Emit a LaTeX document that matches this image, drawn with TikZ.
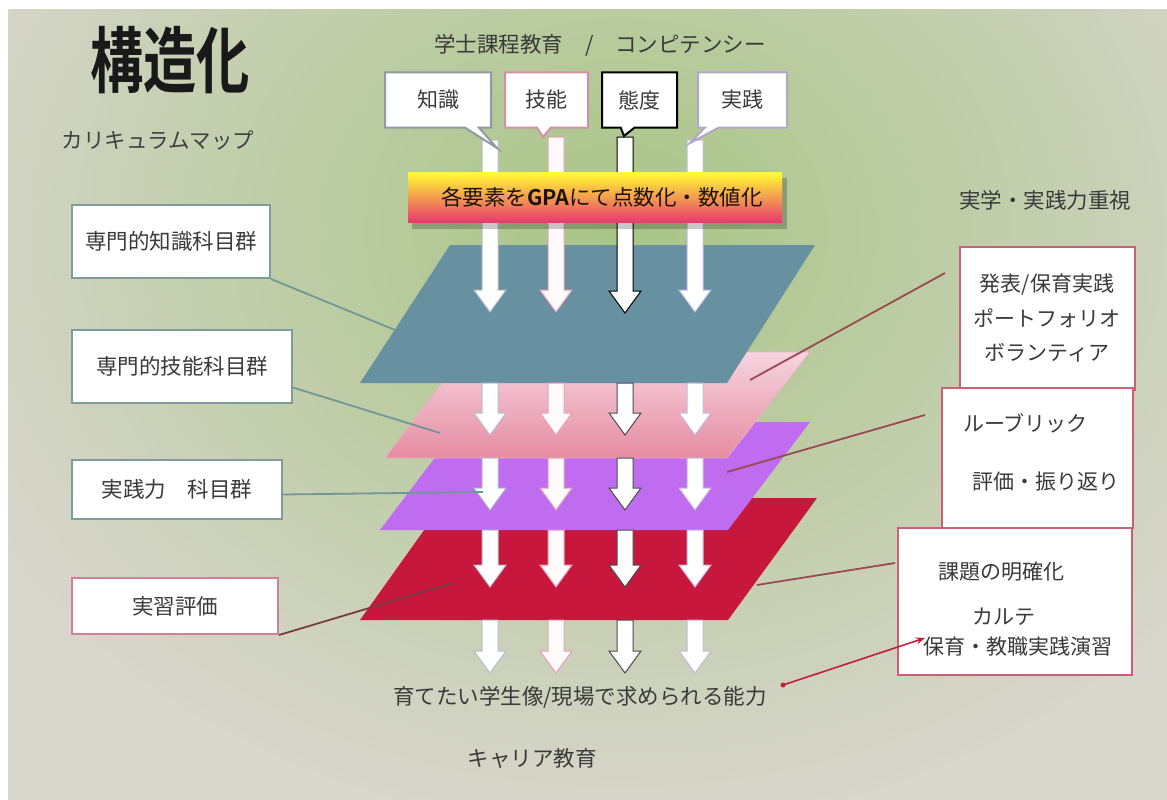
\documentclass[tikz,border=0pt]{standalone}
\usepackage{fontspec}
\setmainfont{Noto Sans CJK JP}[BoldFont={Noto Sans CJK JP Bold}]
\usetikzlibrary{shapes.callouts,arrows.meta}
\definecolor{bgbase}{HTML}{D9D6CE}
\definecolor{bggreen}{HTML}{A8C585}
\definecolor{txt}{HTML}{3A3A3A}
\definecolor{bluelayer}{HTML}{6790A0}
\definecolor{pinktop}{HTML}{F6D4DF}
\definecolor{pinkbot}{HTML}{E68CA2}
\definecolor{purplelayer}{HTML}{BF6CF0}
\definecolor{redlayer}{HTML}{C8173D}
\definecolor{boxteal}{HTML}{7E9C9A}
\definecolor{boxpink}{HTML}{C8607A}
\definecolor{lineteal}{HTML}{6F9896}
\definecolor{linebrown}{HTML}{9A4A52}
\definecolor{linered}{HTML}{C0203A}
\definecolor{col1}{HTML}{B4C0CC}
\definecolor{col2}{HTML}{E8A0B8}
\definecolor{col4}{HTML}{C4B8DE}
\definecolor{gpatop}{HTML}{FFFF30}
\definecolor{gpamid}{HTML}{F8B040}
\definecolor{gpabot}{HTML}{E83A70}
\newcommand\myarrow[4]{\path[#4] (#1-8,#2) -- (#1+8,#2) -- (#1+8,#3-22) -- (#1+16,#3-22) -- (#1,#3) -- (#1-16,#3-22) -- (#1-8,#3-22) -- cycle;}
\tikzset{
  lbox/.style={draw=boxteal, line width=2pt, fill=white, inner sep=0pt, text=txt, font=\fontsize{21.5}{25}\selectfont},
  rbox/.style={draw=boxpink, line width=2pt, fill=white, inner sep=0pt},
  rtxt/.style={text=txt, font=\fontsize{21}{25}\selectfont, inner sep=0pt},
  co/.style={rectangle callout, fill=white, line width=2pt, inner sep=0pt, text=txt, font=\fontsize{21}{25}\selectfont, callout pointer width=14pt},
  lbl/.style={text=txt, inner sep=0pt},
  a1/.style={fill=white, draw=col1, line width=1pt},
  a2/.style={fill=white!94!pink, draw=col2, line width=1pt},
  a3/.style={fill=white, draw=black, line width=1pt},
  a3b/.style={fill=white, draw=black!70, line width=1pt},
  a4/.style={fill=white, draw=col4, line width=1pt},
}
\begin{document}
\begin{tikzpicture}[x=1pt,y=-1pt]
\useasboundingbox (0,0) rectangle (1167,800);
\fill[white] (0,0) rectangle (1167,800);
% background
\begin{scope}
\clip (8,10) rectangle (1167,800);
\fill[bgbase] (8,10) rectangle (1167,800);
\shade[inner color=bggreen, outer color=bgbase] (-120,-380) rectangle (1360,840);
\end{scope}
% titles
\node[lbl, text=black!90] (title) at (170,60) {\fontsize{72}{78}\selectfont\scalebox{0.74}[1]{\bfseries 構造化}};
\node[lbl, text=black!75, font=\fontsize{21.5}{25}\selectfont] (cmap) at (158,140) {カリキュラムマップ};
\node[lbl, font=\fontsize{21.5}{25}\selectfont] (head) at (600,45) {学士課程教育\hspace{22pt}/\hspace{22pt}コンピテンシー};
\node[lbl, font=\fontsize{21.5}{25}\selectfont] (jitsu) at (1045,200) {実学・実践力重視};
% layers
\fill[redlayer] (360,620) -- (447,498) -- (817,498) -- (728,620) -- cycle;
\fill[purplelayer] (380,530) -- (462,422) -- (810,422) -- (728,530) -- cycle;
\shade[top color=pinktop, bottom color=pinkbot, draw=pinkbot!70, line width=0.6pt] (385,458) -- (465,352) -- (810,352) -- (727,458) -- cycle;
\fill[bluelayer] (360,383) -- (450,245) -- (815,245) -- (727,383) -- cycle;
\coordinate (Lblue) at (395,330);
\coordinate (Lpink) at (440,433);
\coordinate (Lpurple) at (483,492);
\coordinate (Lred) at (453,583);
\coordinate (Rpink) at (750,380);
\coordinate (Rpurple) at (727,472);
\coordinate (Rred) at (757,585);
\coordinate (Rgoal) at (783,685);
% arrows
\myarrow{490}{140}{312}{a1}
\myarrow{556}{137}{312}{a2}
\myarrow{625}{137}{313}{a3}
\myarrow{695}{140}{312}{a4}
\foreach \t/\b in {383/435, 458/510, 530/587, 620/673}{
  \myarrow{490}{\t}{\b}{a1}
  \myarrow{556}{\t}{\b}{a2}
  \myarrow{625}{\t}{\b}{a3b}
  \myarrow{695}{\t}{\b}{a4}
}
% GPA banner
\fill[black, opacity=0.22] (412,178) rectangle (787,229);
\shade[top color=gpatop, middle color=gpamid, bottom color=gpabot] (408,172) rectangle (782,222);
\node[lbl, text=black!85!brown, font=\fontsize{21.5}{25}\selectfont] (gpa) at (602,197) {各要素を\textbf{GPA}にて点数化・数値化};
% callouts
\node[co, draw=col1!80!black, minimum width=106pt, minimum height=55pt, callout absolute pointer={(497,148)}] (c1) at (438,100) {知識};
\node[co, draw=col2!90!black, minimum width=83pt, minimum height=55pt, callout absolute pointer={(543,137)}] (c2) at (546.5,100) {技能};
\node[co, draw=black, minimum width=75pt, minimum height=55pt, callout absolute pointer={(624,136)}] (c3) at (639.5,100) {態度};
\node[co, draw=col4!90!black, minimum width=89pt, minimum height=55pt, callout absolute pointer={(690,143)}] (c4) at (742.5,100) {実践};
% left boxes
\node[lbox, minimum width=198pt, minimum height=73pt] (k1) at (171,241.5) {専門的知識科目群};
\node[lbox, minimum width=220pt, minimum height=73pt] (k2) at (182,366.5) {専門的技能科目群};
\node[lbox, minimum width=210pt, minimum height=59pt] (k3) at (177,489.5) {実践力　科目群};
\node[lbox, draw=boxpink!80, minimum width=206pt, minimum height=56pt] (k4) at (175,606) {実習評価};
\draw[lineteal, line width=1.8pt] (k1.south east) -- (Lblue);
\draw[lineteal, line width=1.8pt] ([yshift=-21pt]k2.east) -- (Lpink);
\draw[lineteal, line width=1.8pt] ([yshift=-5pt]k3.east) -- (Lpurple);
\draw[linebrown!80!black, line width=1.8pt] (k4.south east) -- (Lred);
% right boxes
\node[rbox, minimum width=175pt, minimum height=143pt] (r1) at (1047.5,318.5) {};
\node[rtxt, align=center, font=\fontsize{21}{34.5}\selectfont] (r1t) at (1047,318) {発表/保育実践\\ポートフォリオ\\ボランティア};
\node[rbox, minimum width=191pt, minimum height=140pt] (r2) at (1037.5,458) {};
\node[rtxt, anchor=west] (r2a) at (963,423) {ルーブリック};
\node[rtxt, anchor=west] (r2b) at (972,482) {評価・振り返り};
\node[rbox, minimum width=234pt, minimum height=147pt] (r3) at (1015,601.5) {};
\node[rtxt, anchor=west] (r3a) at (938,572) {課題の明確化};
\node[rtxt, anchor=west] (r3b) at (972,617) {カルテ};
\node[rtxt, anchor=west] (r3c) at (923,647) {保育・教職実践演習};
\coordinate (Rs1) at (945,273);
\coordinate (Rs2) at (925,415);
\coordinate (Rs3) at (895,563);
\coordinate (Rs4) at (925,638);
\draw[linebrown, line width=1.8pt] (Rs1) -- (Rpink);
\draw[linebrown, line width=1.8pt] (Rs2) -- (Rpurple);
\draw[linebrown, line width=1.8pt] (Rs3) -- (Rred);
\fill[linered] (Rgoal) circle (2.5pt);
\draw[linered, line width=1.6pt, -{Stealth[length=9pt,width=7pt]}] (Rgoal) -- (Rs4);
% bottom texts
\node[lbl, font=\fontsize{21.5}{25}\selectfont] (goal) at (580,697) {育てたい学生像/現場で求められる能力};
\node[lbl, font=\fontsize{21.5}{25}\selectfont] (career) at (532,758) {キャリア教育};
\end{tikzpicture}
\end{document}
